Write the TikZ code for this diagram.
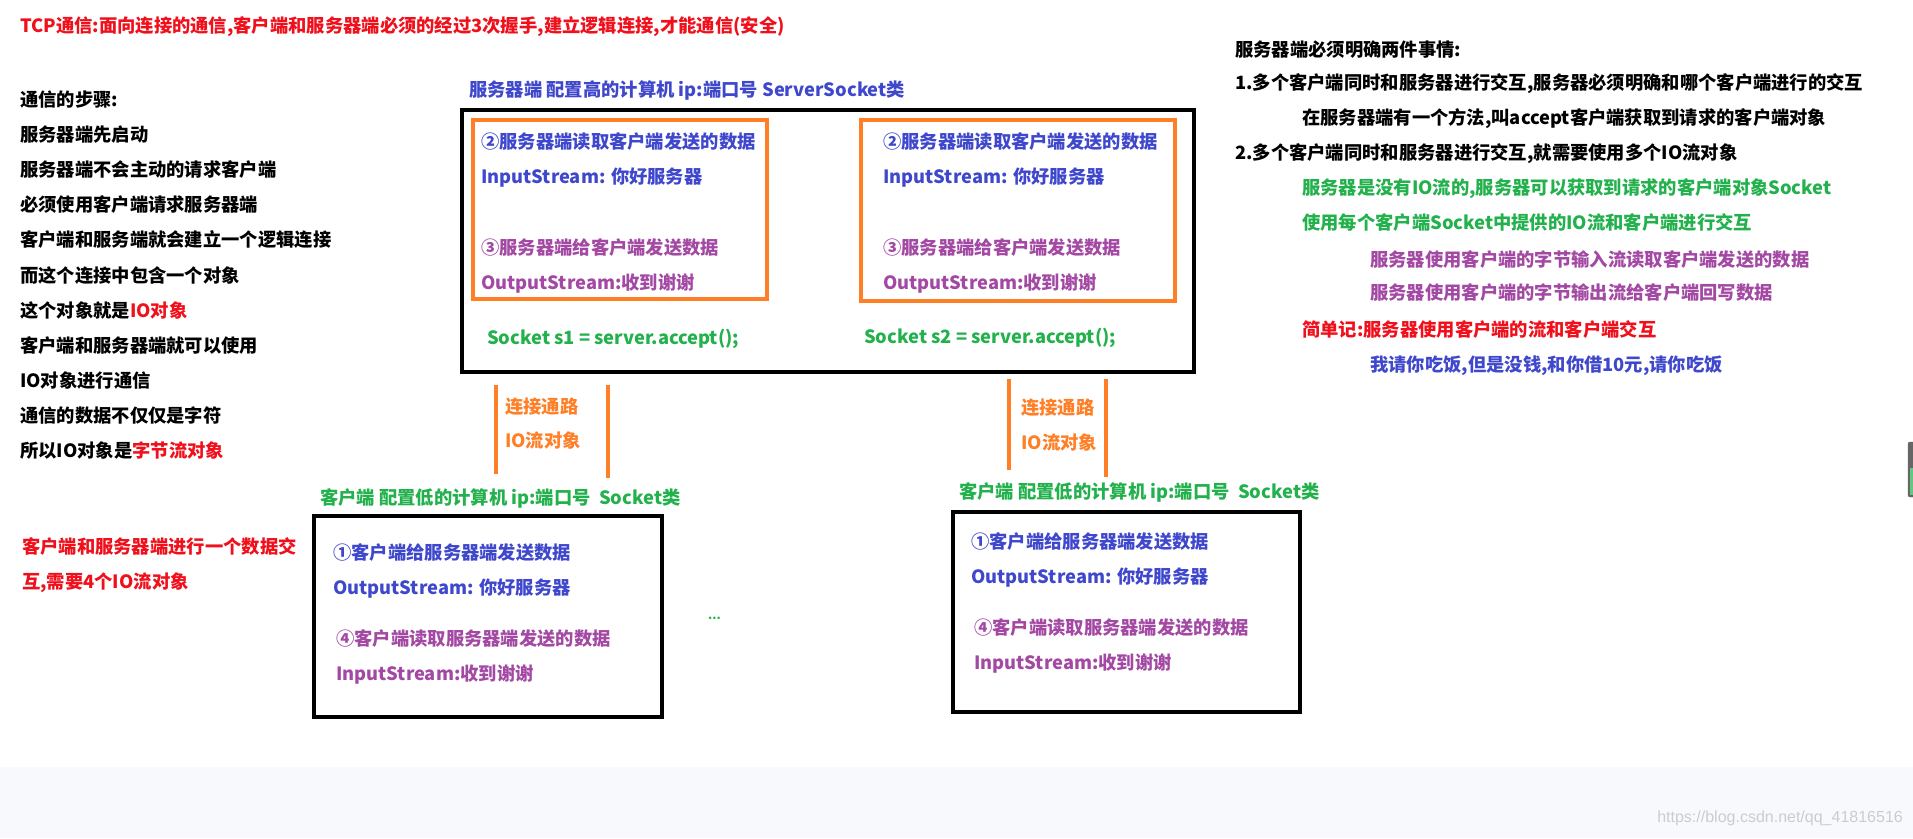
\documentclass[tikz,border=0pt]{standalone}
\usepackage{fontspec}
\setmainfont{Noto Sans CJK SC}
\newfontfamily\markfont{Liberation Sans}
\usetikzlibrary{positioning}
\definecolor{notered}{RGB}{240,16,28}
\definecolor{noteblue}{RGB}{63,72,204}
\definecolor{notepurple}{RGB}{163,73,164}
\definecolor{notegreen}{RGB}{34,177,76}
\definecolor{noteorange}{RGB}{255,127,39}
\definecolor{pageband}{RGB}{247,249,252}
\tikzset{txt/.style={anchor=west, inner sep=0pt, text height=16.5pt, text depth=2.7pt, font=\fontsize{18.3}{22}\selectfont\bfseries},
  framebox/.style={draw=black, line width=4pt, outer sep=0pt, inner sep=0pt, anchor=north west},
  iobox/.style={draw=noteorange, line width=4pt, outer sep=0pt, inner sep=0pt, anchor=north west},
  iolink/.style={draw=noteorange, line width=4pt}}

\begin{document}
\begin{tikzpicture}[x=1pt,y=-1pt]
      \useasboundingbox (0,0) rectangle (1913,838);
      \fill[white] (0,0) rectangle (1913,838);
      \fill[pageband] (0,767) rectangle (1913,838);
      \node[anchor=east, inner sep=0pt, text=black!20, font=\markfont\fontsize{16}{19}\selectfont] (mark) at (1903,818) {https://blog.csdn.net/qq\_41816516};
      \filldraw[black!60, rounded corners=2pt] (1908,442) rectangle (1916,497);
      \fill[notegreen!70] (1910,468) rectangle (1913,495);

      \node[txt, text=notered] (title) at (20,26) {TCP通信:面向连接的通信,客户端和服务器端必须的经过3次握手,建立逻辑连接,才能通信(安全)};

      \node[txt] (step0) at (20,100) {通信的步骤:};
      \node[txt] (step1) at (20,135) {服务器端先启动};
      \node[txt] (step2) at (20,170) {服务器端不会主动的请求客户端};
      \node[txt] (step3) at (20,205) {必须使用客户端请求服务器端};
      \node[txt] (step4) at (20,240) {客户端和服务端就会建立一个逻辑连接};
      \node[txt] (step5) at (20,276) {而这个连接中包含一个对象};
      \node[txt] (step6) at (20,311) {这个对象就是\textcolor{notered}{IO对象}};
      \node[txt] (step7) at (20,346) {客户端和服务器端就可以使用};
      \node[txt] (step8) at (20,381) {IO对象进行通信};
      \node[txt] (step9) at (20,416) {通信的数据不仅仅是字符};
      \node[txt] (step10) at (20,451) {所以IO对象是\textcolor{notered}{字节流对象}};

      \node[txt, text=notered] (need1) at (22,547) {客户端和服务器端进行一个数据交};
      \node[txt, text=notered] (need2) at (22,582) {互,需要4个IO流对象};

      \node[txt, text=noteblue] (srvlabel) at (469,90) {服务器端 配置高的计算机 ip:端口号 ServerSocket类};
      \node[framebox, minimum width=732, minimum height=262] (server) at (462,110) {};
      \node[iobox, minimum width=294, minimum height=179] (io1) at (473,120) {};
      \node[iobox, minimum width=314, minimum height=181] (io2) at (861,120) {};

      \node[txt, text=noteblue] (read1) at (481,142) {②服务器端读取客户端发送的数据};
      \node[txt, text=noteblue] (in1) at (481,177) {InputStream: 你好服务器};
      \node[txt, text=notepurple] (send1) at (481,248) {③服务器端给客户端发送数据};
      \node[txt, text=notepurple] (out1) at (481,283) {OutputStream:收到谢谢};
      \node[txt, text=noteblue] (read2) at (883,142) {②服务器端读取客户端发送的数据};
      \node[txt, text=noteblue] (in2) at (883,177) {InputStream: 你好服务器};
      \node[txt, text=notepurple] (send2) at (883,248) {③服务器端给客户端发送数据};
      \node[txt, text=notepurple] (out2) at (883,283) {OutputStream:收到谢谢};
      \node[txt, text=notegreen] (accept1) at (487,338) {Socket s1 = server.accept();};
      \node[txt, text=notegreen] (accept2) at (864,337) {Socket s2 = server.accept();};

      \coordinate (l1top) at (496,385);
      \coordinate (l1bot) at (496,474);
      \coordinate (r1top) at (608,385);
      \coordinate (r1bot) at (608,478);
      \coordinate (l2top) at (1009,379);
      \coordinate (l2bot) at (1009,470);
      \coordinate (r2top) at (1106,379);
      \coordinate (r2bot) at (1106,477);
      \draw[iolink] (l1top) -- (l1bot);
      \draw[iolink] (r1top) -- (r1bot);
      \draw[iolink] (l2top) -- (l2bot);
      \draw[iolink] (r2top) -- (r2bot);
      \node[txt, text=noteorange] (path1) at (505,407) {连接通路};
      \node[txt, text=noteorange] (stream1) at (505,441) {IO流对象};
      \node[txt, text=noteorange] (path2) at (1021,408) {连接通路};
      \node[txt, text=noteorange] (stream2) at (1021,443) {IO流对象};

      \node[txt, text=notegreen] (cltlabel1) at (320,498) {客户端 配置低的计算机 ip:端口号\ \ Socket类};
      \node[framebox, minimum width=348, minimum height=201] (client1) at (314,516) {};
      \node[txt, text=noteblue] (csend1) at (333,553) {①客户端给服务器端发送数据};
      \node[txt, text=noteblue] (cout1) at (333,588) {OutputStream: 你好服务器};
      \node[txt, text=notepurple] (cread1) at (336,639) {④客户端读取服务器端发送的数据};
      \node[txt, text=notepurple] (cin1) at (336,674) {InputStream:收到谢谢};

      \node[txt, text=notegreen, font=\fontsize{12}{14}\selectfont\bfseries] (more) at (708,613) {...};

      \node[txt, text=notegreen] (cltlabel2) at (959,492) {客户端 配置低的计算机 ip:端口号\ \ Socket类};
      \node[framebox, minimum width=347, minimum height=200] (client2) at (953,512) {};
      \node[txt, text=noteblue] (csend2) at (971,542) {①客户端给服务器端发送数据};
      \node[txt, text=noteblue] (cout2) at (971,577) {OutputStream: 你好服务器};
      \node[txt, text=notepurple] (cread2) at (974,628) {④客户端读取服务器端发送的数据};
      \node[txt, text=notepurple] (cin2) at (974,663) {InputStream:收到谢谢};

      \node[txt] (rule0) at (1235,50) {服务器端必须明确两件事情:};
      \node[txt] (rule1) at (1235,83) {1.多个客户端同时和服务器进行交互,服务器必须明确和哪个客户端进行的交互};
      \node[txt] (rule1a) at (1302,118) {在服务器端有一个方法,叫accept客户端获取到请求的客户端对象};
      \node[txt] (rule2) at (1235,153) {2.多个客户端同时和服务器进行交互,就需要使用多个IO流对象};
      \node[txt, text=notegreen] (rule2a) at (1302,188) {服务器是没有IO流的,服务器可以获取到请求的客户端对象Socket};
      \node[txt, text=notegreen] (rule2b) at (1302,223) {使用每个客户端Socket中提供的IO流和客户端进行交互};
      \node[txt, text=notepurple] (rule2c) at (1370,260) {服务器使用客户端的字节输入流读取客户端发送的数据};
      \node[txt, text=notepurple] (rule2d) at (1370,293) {服务器使用客户端的字节输出流给客户端回写数据};
      \node[txt, text=notered] (memo) at (1302,330) {简单记:服务器使用客户端的流和客户端交互};
      \node[txt, text=noteblue] (memo1) at (1370,365) {我请你吃饭,但是没钱,和你借10元,请你吃饭};
\end{tikzpicture}
\end{document}
